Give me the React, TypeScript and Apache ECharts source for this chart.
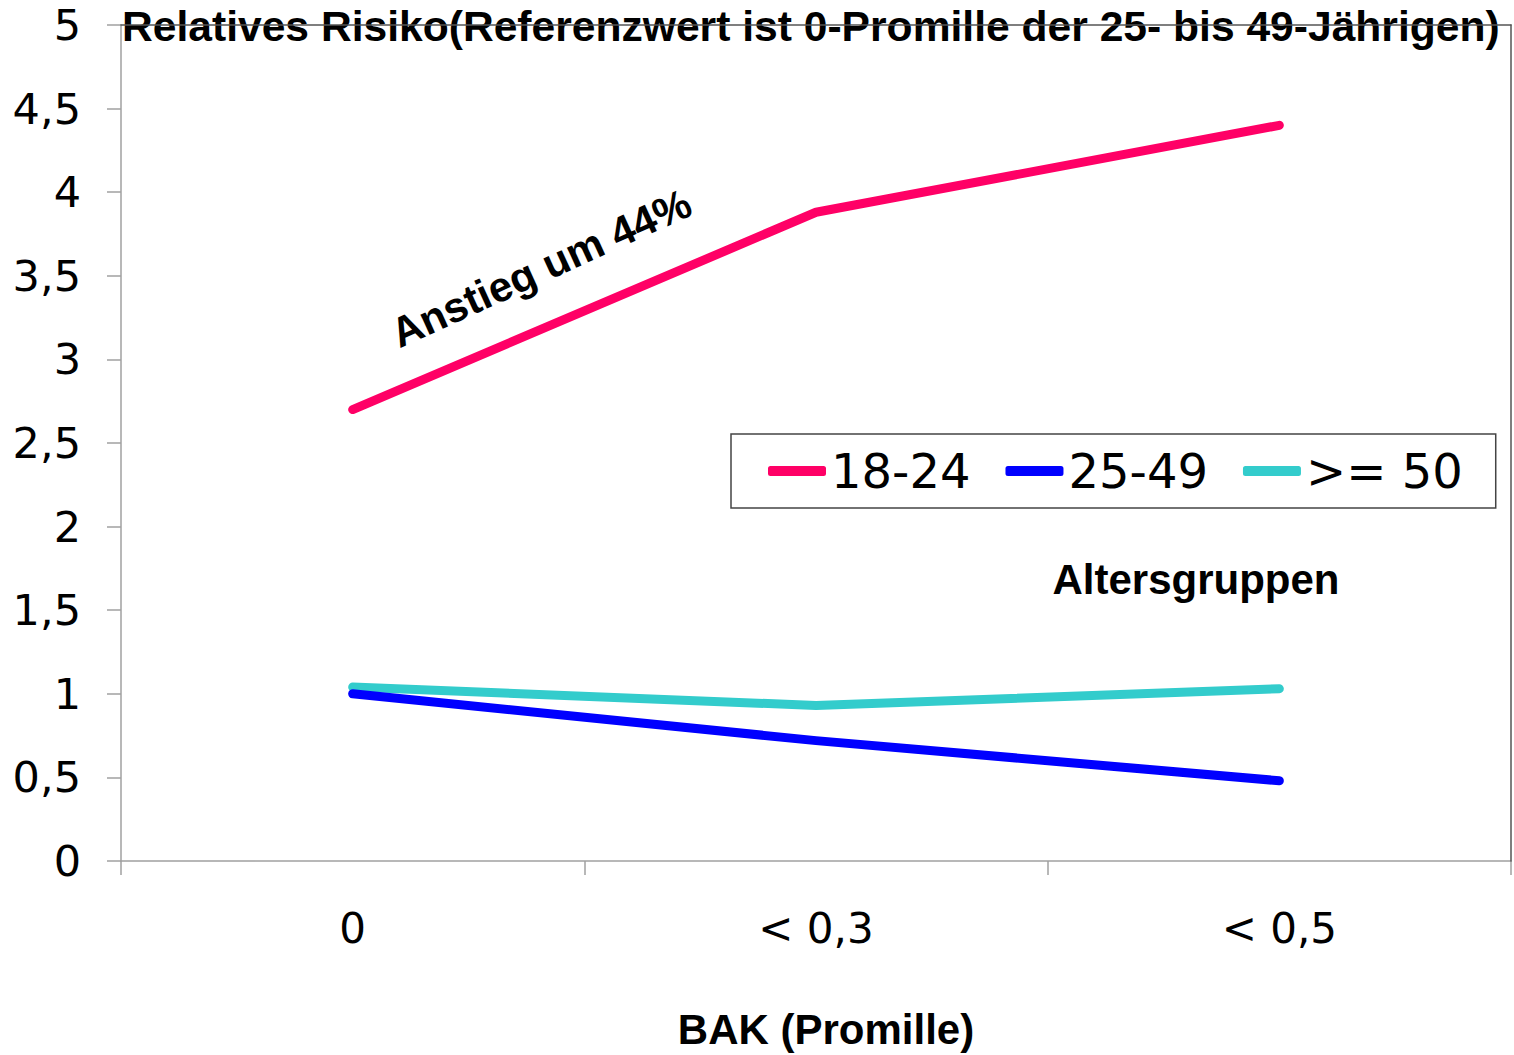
import React, { useEffect, useRef } from "react";
import * as echarts from "echarts";

const categories = ["0", "< 0,3", "< 0,5"];
const seriesNames = ["18-24", "25-49", ">= 50"];
const values1824 = [2.7, 3.88, 4.4];
const values2549 = [1.0, 0.72, 0.48];
const values50 = [1.04, 0.93, 1.03];
const seriesColors = ["#FF0066", "#0000FF", "#33CCCC"];
const titleText = "Relatives Risiko(Referenzwert ist 0-Promille der 25- bis 49-Jährigen)";
const xAxisName = "BAK (Promille)";
const annotationText = "Anstieg um 44%";
const legendTitle = "Altersgruppen";

export default function App() {
  const ref = useRef<HTMLDivElement>(null);
  useEffect(() => {
    if (!ref.current) return;
    const chart = echarts.init(ref.current, null, { renderer: "svg" });
    const seriesData = [values1824, values2549, values50];
    const labelFont = "DejaVu Sans";
    const boldFont = "Liberation Sans";
    chart.setOption({
      animation: false,
      backgroundColor: "#fff",
      title: {
        text: titleText,
        left: 122,
        top: 4,
        padding: 0,
        z: 1,
        textStyle: { fontFamily: boldFont, fontWeight: "bold", fontSize: 42.6, color: "#000" },
      },
      grid: { left: 121, right: 3, top: 25, bottom: 186 },
      legend: {
        left: 731,
        top: 434,
        orient: "horizontal",
        padding: [13, 33, 13, 37],
        itemGap: 35,
        itemWidth: 58,
        itemHeight: 10,
        icon: "roundRect",
        borderColor: "#444",
        borderWidth: 1.5,
        backgroundColor: "#fff",
        textStyle: { fontFamily: labelFont, fontSize: 48, color: "#000" },
        data: seriesNames,
      },
      xAxis: [
        {
          type: "category",
          data: categories,
          boundaryGap: true,
          position: "bottom",
          axisLine: { show: true, lineStyle: { color: "#a0a0a0", width: 1.5 } },
          axisTick: { show: true, length: 14, lineStyle: { color: "#a0a0a0", width: 1.5 } },
          axisLabel: { margin: 46, fontFamily: labelFont, fontSize: 42, color: "#000" },
          splitLine: { show: false },
          name: xAxisName,
          nameLocation: "middle",
          nameGap: 147,
          nameTextStyle: {
            fontFamily: boldFont,
            fontWeight: "bold",
            fontSize: 42,
            color: "#000",
            padding: [0, 0, 0, 20],
          },
        },
        {
          type: "category",
          data: categories,
          position: "top",
          z: 10,
          axisLine: { show: true, onZero: false, lineStyle: { color: "#555", width: 1.5 } },
          axisTick: { show: false },
          axisLabel: { show: false },
          splitLine: { show: false },
        },
      ],
      yAxis: [
        {
          type: "value",
          min: 0,
          max: 5,
          interval: 0.5,
          axisLine: { show: true, lineStyle: { color: "#a0a0a0", width: 1.5 } },
          axisTick: { show: true, length: 14, lineStyle: { color: "#a0a0a0", width: 1.5 } },
          axisLabel: {
            margin: 40,
            fontFamily: labelFont,
            fontSize: 43,
            color: "#000",
            formatter: (v: number) => String(v).replace(".", ","),
          },
          splitLine: { show: false },
        },
        {
          type: "value",
          min: 0,
          max: 5,
          interval: 0.5,
          position: "right",
          z: 10,
          axisLine: { show: true, onZero: false, lineStyle: { color: "#555", width: 1.5 } },
          axisTick: { show: false },
          axisLabel: { show: false },
          splitLine: { show: false },
        },
      ],
      series: seriesNames.map((name, i) => ({
        name,
        type: "line",
        data: seriesData[i],
        symbol: "none",
        showSymbol: false,
        itemStyle: { color: seriesColors[i] },
        lineStyle: { color: seriesColors[i], width: 9, cap: "round", join: "round" },
        z: 3 - i + 2,
      })),
      graphic: [
        {
          type: "text",
          x: 541,
          y: 268,
          rotation: (24.5 * Math.PI) / 180,
          style: {
            text: annotationText,
            font: `bold 42px "${boldFont}"`,
            fill: "#000",
            align: "center",
            verticalAlign: "middle",
          },
        },
        {
          type: "text",
          x: 1196,
          y: 579,
          style: {
            text: legendTitle,
            font: `bold 42px "${boldFont}"`,
            fill: "#000",
            align: "center",
            verticalAlign: "middle",
          },
        },
      ],
    });
    return () => chart.dispose();
  }, []);
  return (
    <div
      ref={ref}
      style={{ position: "fixed", left: 0, top: 0, width: 1514, height: 1055 }}
    />
  );
}
